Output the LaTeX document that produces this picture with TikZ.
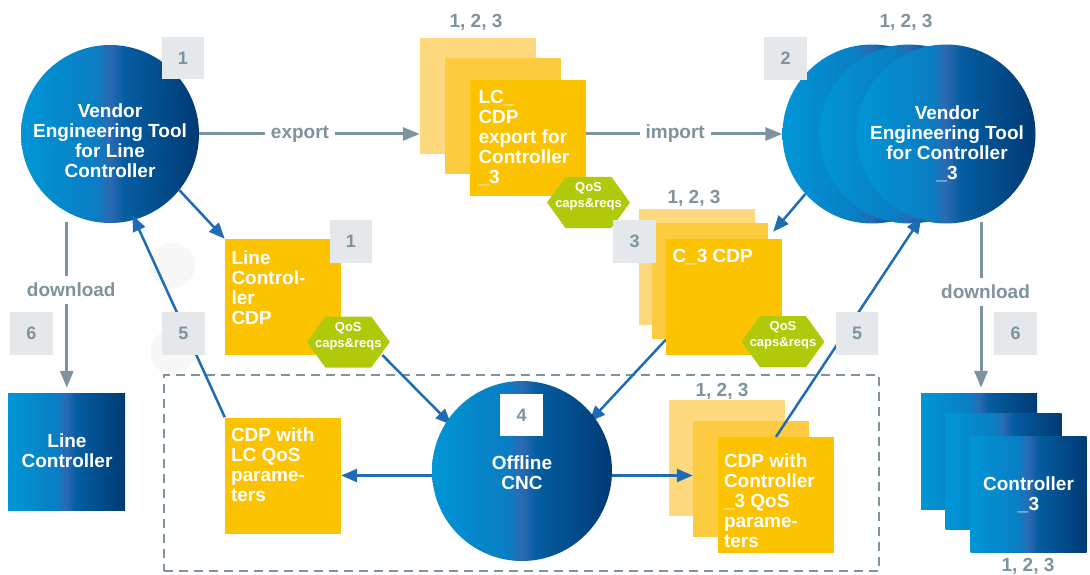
\documentclass[tikz,border=0pt]{standalone}
\usepackage{fontspec}
\setmainfont{Liberation Sans}
\usetikzlibrary{arrows.meta,calc}
\pgfdeclarelayer{bg}
\pgfsetlayers{bg,main}
\definecolor{gtext}{HTML}{7D939D}
\definecolor{badgebg}{HTML}{E4E8EB}
\definecolor{barrowc}{HTML}{1F6CB4}
\definecolor{yfront}{HTML}{FCC300}
\definecolor{ymid}{HTML}{FDCB3F}
\definecolor{yback}{HTML}{FED87C}
\definecolor{qgreen}{HTML}{B0C90B}
\definecolor{faintc}{HTML}{F7F7F7}
\definecolor{bl1}{HTML}{0096D6}
\definecolor{bl2}{HTML}{0A7DC3}
\definecolor{bl3}{HTML}{2B69B2}
\definecolor{bl4}{HTML}{055DA1}
\definecolor{bl5}{HTML}{003A74}
\pgfdeclarehorizontalshading{bluegrad}{100bp}{color(0bp)=(bl1); color(25bp)=(bl1); color(46bp)=(bl2); color(50bp)=(bl3); color(54bp)=(bl4); color(75bp)=(bl5); color(100bp)=(bl5)}
\newcommand{\dgmfont}{\bfseries\fontsize{19}{20}\selectfont}
\newcommand{\badgefont}{\bfseries\fontsize{18}{18}\selectfont}
\newcommand{\hexfont}{\bfseries\fontsize{13}{16}\selectfont}
\tikzset{
  dgtxt/.style={text=white, font=\dgmfont, align=center, inner sep=0pt},
  bcirc/.style={circle, minimum size=#1, inner sep=0pt, shade, shading=bluegrad},
  brect/.style={rectangle, minimum size=116pt, inner sep=0pt, shade, shading=bluegrad},
  ysq/.style={rectangle, minimum size=116pt, inner sep=0pt, fill=#1},
  badge/.style={rectangle, minimum size=42.5pt, inner sep=0pt, fill=#1, text=gtext, font=\badgefont},
  badge/.default=badgebg,
  glabel/.style={text=gtext, font=\dgmfont, inner sep=0pt},
  gaplabel/.style={glabel, fill=white, inner xsep=6pt, inner ysep=7pt},
  barrow/.style={draw=barrowc, line width=2.5pt, -{Triangle[length=16pt,width=13pt]}},
  garrow/.style={draw=gtext, line width=3pt, -{Triangle[length=17pt,width=13pt]}},
  ytext/.style={text=white, font=\dgmfont, align=left, anchor=north west, inner sep=0pt},
  hextext/.style={text=white, font=\hexfont, align=center, inner sep=0pt},
  faint/.style={circle, minimum size=45pt, inner sep=0pt, fill=faintc},
  dashbox/.style={draw=gtext, line width=2.5pt, dash pattern=on 9pt off 6pt},
}
\newcommand{\qoshexagon}[1]{%
  \fill[qgreen] ([shift={(-41.5,0)}]#1) -- ([shift={(-23,-25.5)}]#1) -- ([shift={(23,-25.5)}]#1) -- ([shift={(41.5,0)}]#1) -- ([shift={(23,25.5)}]#1) -- ([shift={(-23,25.5)}]#1) -- cycle;
  \node[hextext] (#1t) at ([shift={(0,-6)}]#1) {QoS\\caps\&reqs};}
\begin{document}
\begin{tikzpicture}[x=1pt,y=-1pt]
\useasboundingbox (0,0) rectangle (1090,575);
\coordinate (hA) at (588.5,202.5);
\coordinate (hB) at (348.3,342);
\coordinate (hC) at (783,341.7);
% circles
\node[bcirc=178pt] (vt1) at (110,134) {};
\node[dgtxt] (vt1t) at (110,141.2) {Vendor\\Engineering Tool\\for Line\\Controller};
\node[bcirc=179pt] (vr1) at (872,134) {};
\node[bcirc=179pt] (vr2) at (909,134) {};
\node[bcirc=179pt] (vr3) at (946,134) {};
\node[dgtxt] (vr3t) at (947,144) {Vendor\\Engineering Tool\\for Controller\\\_3};
\node[bcirc=180pt] (cnc) at (522,471) {};
\node[dgtxt] (cnct) at (522,473) {Offline\\CNC};
% LC export stack
\node[ysq=yback] (lcb) at (478,96) {};
\node[ysq=ymid] (lcm) at (503,116) {};
\node[ysq=yfront] (lcf) at (528,138) {};
\node[ytext] (lcft) at ($(lcf.north west)+(8.5,10.4)$) {LC\_\\CDP\\export for\\Controller\\\_3};
\node[glabel] (n123a) at (476,22.5) {1, 2, 3};
% C_3 CDP stack
\node[ysq=yback] (c3b) at (697,267) {};
\node[ysq=ymid] (c3m) at (710,281) {};
\node[ysq=yfront] (c3f) at (724,296.5) {};
\node[ytext] (c3ft) at ($(c3f.north west)+(6.5,10.4)$) {C\_3 CDP};
\node[glabel] (n123b) at (694,198) {1, 2, 3};
% Line Controller CDP
\node[ysq=yfront] (lcdp) at (283,297) {};
\node[ytext] (lcdpt) at ($(lcdp.north west)+(6.5,11.4)$) {Line\\Control-\\ler\\CDP};
% LC QoS
\node[ysq=yfront] (lcq) at (283,475.5) {};
\node[ytext] (lcqt) at ($(lcq.north west)+(6,9.8)$) {CDP with\\LC QoS\\parame-\\ters};
% Controller_3 QoS stack
\node[ysq=yback] (cqb) at (727,458) {};
\node[ysq=ymid] (cqm) at (751,479) {};
\node[ysq=yfront] (cqf) at (776,495) {};
\node[ytext] (cqft) at ($(cqf.north west)+(6,16.4)$) {CDP with\\Controller\\\_3 QoS\\parame-\\ters};
\node[glabel] (n123d) at (722,391) {1, 2, 3};
% background: faint circles, frame, arrows running under boxes
\begin{pgfonlayer}{bg}
\node[faint] (f1) at (172.5,265.5) {};
\node[faint] (f2) at (173,352) {};
\node[dashbox, minimum width=715pt, minimum height=196pt, inner sep=0pt] (frame) at (521.5,473) {};
\draw[barrow, shorten >=-6pt] ($(hB)+(34,13)$) -- (cnc.146);
\draw[barrow, shorten >=-7pt] ($(c3f.south west)+(0,-15)$) -- (cnc.37);
\end{pgfonlayer}
% hexagons
\qoshexagon{hA}
\qoshexagon{hB}
\qoshexagon{hC}
% Line controller box
\node[brect, minimum size=117pt] (lcbox) at (66.5,451.5) {};
\node[dgtxt] (lcboxt) at (67,451) {Line\\Controller};
% Controller_3 stack
\node[brect] (cc1) at (979,451) {};
\node[brect] (cc2) at (1003.5,471.5) {};
\node[brect] (cc3) at (1028.5,494.5) {};
\node[dgtxt] (cc3t) at (1028.5,495) {Controller\\\_3};
\node[glabel] (n123e) at (1028,566) {1, 2, 3};
\node[glabel] (n123c) at (906,22.5) {1, 2, 3};
% grey arrows
\draw[garrow] (vt1.east) -- node[gaplabel, pos=0.457] (lexp) {export} (vt1.east -| lcb.west);
\draw[garrow] (lcf.east |- vr1.west) -- node[gaplabel, pos=0.454] (limp) {import} (vr1.west);
\draw[garrow, shorten <=10pt, shorten >=5pt] (vt1.-119) -- node[gaplabel, pos=0.4316, xshift=4.5pt] (ldl1) {download} (vt1.-119 |- lcbox.north);
\draw[garrow, shorten <=5pt, shorten >=5pt] (vr3.-67.7) -- node[gaplabel, pos=0.427, xshift=4.5pt] (ldl2) {download} (vr3.-67.7 |- cc1.north);
% blue arrows
\draw[barrow] (vt1.-39) -- (lcdp.north west);
\draw[barrow, shorten >=-5pt] (lcq.north west) -- (vt1.-74.6);
\draw[barrow] (cnc.west |- lcq.east) -- (lcq.east);
\draw[barrow] (cnc.east |- lcq.east) -- (cqm.west |- lcq.east);
\draw[barrow] (vr1.-138.5) -- ($(c3m.north east)+(5,9)$);
\draw[barrow, shorten >=-3pt] (cqf.north) -- (vr3.-107.6);
% badges
\node[badge] (b1a) at (183,58) {1};
\node[badge] (b2) at (785.5,58.5) {2};
\node[badge] (b1b) at (351,241.5) {1};
\node[badge] (b3) at (634.5,241.5) {3};
\node[badge] (b5a) at (183.5,333.5) {5};
\node[badge] (b5b) at (857,333.5) {5};
\node[badge] (b6a) at (31.5,333.5) {6};
\node[badge] (b6b) at (1015.5,333.5) {6};
\node[badge=white] (b4) at (521.5,415) {4};
\end{tikzpicture}
\end{document}
